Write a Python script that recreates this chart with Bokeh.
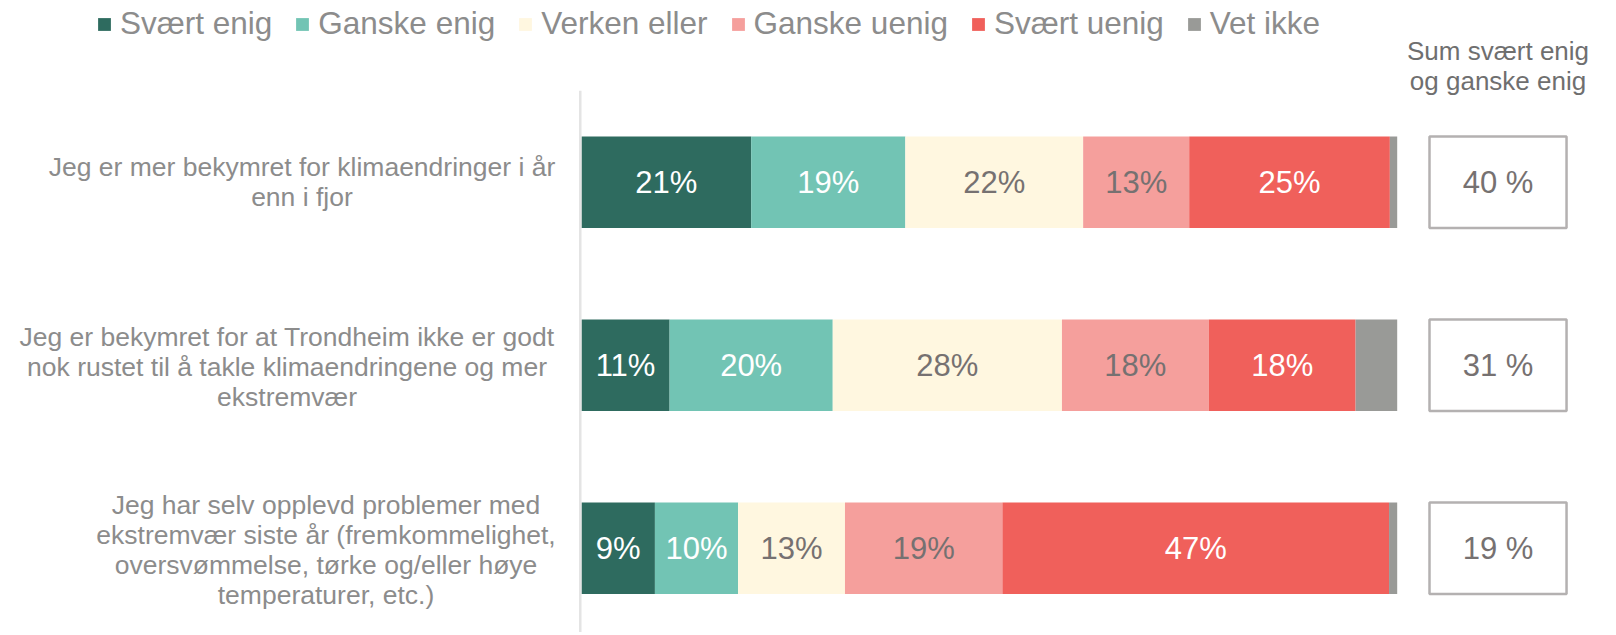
import numpy as np
from bokeh.plotting import figure
from bokeh.models import ColumnDataSource, Range1d
from bokeh.core.properties import value
from bokeh.embed import file_html
from bokeh.resources import INLINE

# ---------------- data ----------------
statements = [
    "Jeg er mer bekymret for klimaendringer i år\nenn i fjor",
    "Jeg er bekymret for at Trondheim ikke er godt\nnok rustet til å takle klimaendringene og mer\nekstremvær",
    "Jeg har selv opplevd problemer med\nekstremvær siste år (fremkommelighet,\noversvømmelse, tørke og/eller høye\ntemperaturer, etc.)",
]
series_names = ["Svært enig", "Ganske enig", "Verken eller", "Ganske uenig", "Svært uenig", "Vet ikke"]
svaert_enig = [20.8, 10.8, 9.0]
ganske_enig = [18.9, 20.0, 10.2]
verken_eller = [21.8, 28.1, 13.1]
ganske_uenig = [13.0, 18.0, 19.3]
svaert_uenig = [24.6, 18.0, 47.4]
vet_ikke = [0.9, 5.1, 1.0]
sum_header = "Sum svært enig\nog ganske enig"

# ---------------- styles ----------------
colors = ["#2e6b5f", "#72c4b4", "#fff7e0", "#f59f9c", "#f0605b", "#999a97"]
label_colors = ["white", "white", "#767171", "#767171", "white", None]
FONT = value("Liberation Sans")
W, H = 1600, 632

series = [svaert_enig, ganske_enig, verken_eller, ganske_uenig, svaert_uenig, vet_ikke]
keys = ["s0", "s1", "s2", "s3", "s4", "s5"]
ypos = list(range(len(statements)))

data = {"y": ypos}
for k, s in zip(keys, series):
    data[k] = s
source = ColumnDataSource(data)

PX = 8.157      # pixels per percent
UNIT = 183.0    # pixels per category band
X0 = 581.0      # pixel position of 0 %
Y0 = 181.7      # pixel position of first category centre

p = figure(width=W, height=H, output_backend="svg", toolbar_location=None,
           x_range=Range1d(-X0 / PX, (W - X0) / PX),
           y_range=Range1d((H - Y0) / UNIT, -Y0 / UNIT),
           x_axis_location=None, y_axis_location=None, min_border=0)
p.grid.visible = False
p.outline_line_color = None
p.background_fill_color = "white"

renderers = p.hbar_stack(keys, y="y", height=0.5, color=colors, source=source,
                         line_color=None, legend_label=series_names)

# axis line
p.segment(x0=[-0.15], y0=[-0.5], x1=[-0.15], y1=[2.7], line_color="#e4e4e4", line_width=2.5)

# segment labels
arr = np.array(series)
cum = np.cumsum(arr, axis=0)
left = cum - arr
for i in range(5):
    mids = (left[i] + cum[i]) / 2
    txt = [f"{int(round(v))}%" for v in arr[i]]
    p.text(x=mids, y=ypos, text=txt, text_align="center", text_baseline="middle",
           text_font=FONT, text_font_size="31px", text_color=label_colors[i])

# category labels (centered multi-line)
label_x = [-34.27, -36.10, -31.32]
label_dy = [0.0, 0.008, 0.012]
p.text(x=label_x, y=[v + d for v, d in zip(ypos, label_dy)], text=statements, text_align="center",
       text_baseline="middle", text_font=FONT, text_font_size="26.5px", text_color="#8c8c8c",
       text_line_height=1.0)

# sum boxes
sums = [int(round(a + b)) for a, b in zip(svaert_enig, ganske_enig)]
box_x = 112.36
p.rect(x=[box_x] * 3, y=ypos, width=16.8, height=0.5, fill_color="white",
       line_color="#b4b1b1", line_width=2.5)
p.text(x=[box_x] * 3, y=ypos, text=[f"{s} %" for s in sums], text_align="center",
       text_baseline="middle", text_font=FONT, text_font_size="31px", text_color="#767171")
p.text(x=[box_x], y=[-0.634], text=[sum_header], text_align="center", text_baseline="middle",
       text_font=FONT, text_font_size="26px", text_color="#6f6f6f", text_line_height=1.02)

# legend
lg = p.legend[0]
lg.orientation = "horizontal"
lg.location = (96, H - 42)
lg.padding = 0
lg.margin = 0
lg.spacing = 22
lg.label_standoff = 8
lg.glyph_width = 16
lg.glyph_height = 16
lg.label_height = 36
lg.label_text_font = "Liberation Sans"
lg.label_text_font_size = "31.5px"
lg.label_text_color = "#8c8c8c"
lg.border_line_color = None
lg.background_fill_alpha = 0

open("out.html", "w").write(file_html(p, INLINE))
